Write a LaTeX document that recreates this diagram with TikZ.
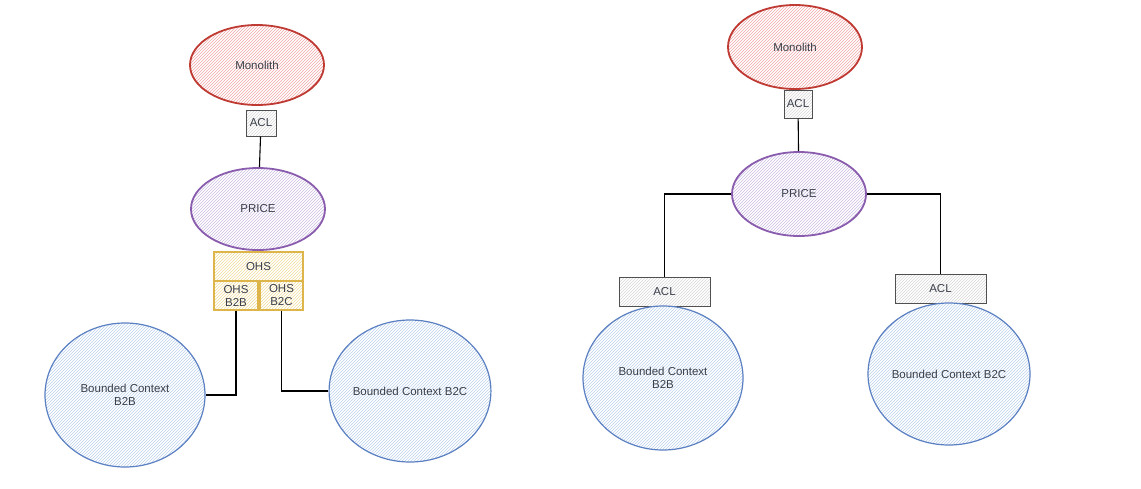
\documentclass[tikz,border=0pt]{standalone}
\usepackage{fontspec}
\setmainfont{Liberation Sans}
\usetikzlibrary{shapes.geometric,patterns}
\definecolor{monoline}{HTML}{BF3A32}
\definecolor{monofill}{HTML}{F2A8A8}
\definecolor{priceline}{HTML}{8A5CAE}
\definecolor{pricefill}{HTML}{CDBDE3}
\definecolor{ohsline}{HTML}{DDB54A}
\definecolor{ohsfill}{HTML}{F3DD9E}
\definecolor{bcline}{HTML}{5B80C2}
\definecolor{bcfill}{HTML}{BCD2EE}
\definecolor{aclline}{HTML}{505050}
\definecolor{aclfill}{HTML}{D8D8D8}
\definecolor{txt}{HTML}{3A3F4A}
\begin{document}
\begin{tikzpicture}[x=1pt,y=-1pt,
  every node/.style={font=\fontsize{11.5}{13}\selectfont, text=txt, align=center, inner sep=0pt},
  hatch/.style={preaction={fill=white}, pattern=north east lines, pattern color=#1},
  monolith/.style={shape=ellipse, draw=monoline, line width=1.8pt, hatch=monofill, minimum width=134, minimum height=80},
  price/.style={shape=ellipse, draw=priceline, line width=1.8pt, hatch=pricefill, minimum width=134, minimum height=82},
  bc/.style={shape=ellipse, draw=bcline, line width=1.2pt, hatch=bcfill, minimum width=160, minimum height=144},
  acl/.style={shape=rectangle, draw=aclline, line width=1pt, hatch=aclfill},
  ohs/.style={shape=rectangle, draw=ohsline, line width=1.2pt, hatch=ohsfill},
  link/.style={-, line width=1.1pt, draw=black}]
\useasboundingbox (0,0) rectangle (1141,488);
% left: open host service
\node[monolith] (mono1) at (257,65) {Monolith};
\node[acl, minimum width=30, minimum height=26] (acl1) at (261,123) {ACL};
\node[price] (price1) at (258,209) {PRICE};
\node[ohs, minimum width=89, minimum height=29] (ohs) at (258.5,266.5) {OHS};
\node[ohs, minimum width=44, minimum height=29] (ohsb2b) at (236,295.5) {OHS\\B2B};
\node[ohs, minimum width=43, minimum height=29] (ohsb2c) at (281.5,295.5) {OHS\\B2C};
\node[bc] (bcb2b) at (125,395) {Bounded Context\\B2B};
\node[bc, minimum height=142] (bcb2c) at (410,391) {Bounded Context B2C};
\path[link] (acl1) edge (price1);
\draw[link] (ohsb2b.south) |- (bcb2b.east);
\draw[link] (ohsb2c.south) |- (bcb2c.west);
% right: anti corruption layers
\node[monolith, minimum height=84] (mono2) at (795,47) {Monolith};
\node[acl, minimum width=28, minimum height=28] (acl2) at (798,104) {ACL};
\node[price, minimum height=84] (price2) at (799,194) {PRICE};
\node[acl, minimum width=91, minimum height=29] (acl2l) at (664.5,291.5) {ACL};
\node[acl, minimum width=91, minimum height=29] (acl2r) at (940.5,288.5) {ACL};
\node[bc] (bc2l) at (663,378) {Bounded Context\\B2B};
\node[bc, minimum width=162, minimum height=142] (bc2r) at (949,374) {Bounded Context B2C};
\path[link] (acl2) edge (price2);
\draw[link] (price2.west) -| (acl2l.north);
\draw[link] (price2.east) -| (acl2r.north);
\end{tikzpicture}
\end{document}
